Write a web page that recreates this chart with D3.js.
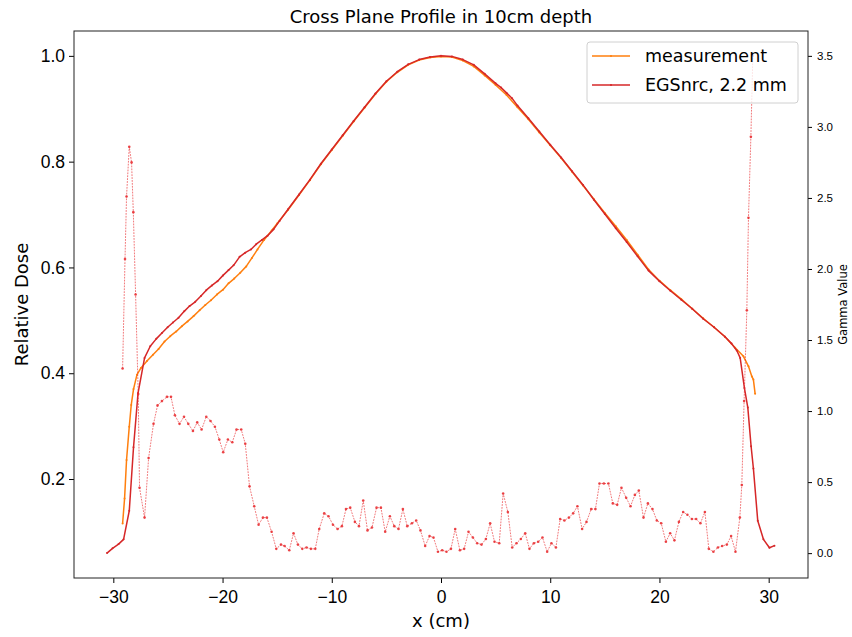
<!DOCTYPE html>
<html>
<head>
<meta charset="utf-8">
<script src="https://cdn.jsdelivr.net/npm/d3@7"></script>
<style>
  body { margin: 0; background: #fff; }
  svg { font-family: "DejaVu Sans", sans-serif; }
</style>
</head>
<body>
<svg id="chart"></svg>
<script>
// profile data
var egsX = [-30.58, -30.07, -29.52, -29.06, -28.54, -28.15, -27.74, -27.14, -26.62, -26.07, -25.55, -25.03,
  -24.54, -24.03, -23.51, -23.02, -22.5, -21.98, -21.49, -20.97, -20.46, -19.96, -19.45, -18.99, -18.44,
  -17.92, -17.4, -16.92, -16.39, -15.88, -15.33, -14.78, -14, -13, -12, -11, -10, -9, -8, -7, -6, -5, -4,
  -3, -2, -1, 0, 1, 2, 3, 4, 5, 5.5, 6, 6.5, 7, 8, 9, 10, 11, 12, 13, 14, 15, 16, 17, 18, 19, 20, 21, 22,
  23, 24, 25, 26, 26.6, 27.08, 27.39, 27.78, 28.09, 28.39, 28.6, 29.0, 29.52, 30.07, 30.53];
var egsDose = [0.060, 0.069, 0.077, 0.086, 0.140, 0.26, 0.362, 0.429, 0.451, 0.465, 0.476, 0.487,
  0.496, 0.505, 0.517, 0.527, 0.535, 0.546, 0.557, 0.566, 0.574, 0.585, 0.595, 0.604, 0.620,
  0.628, 0.634, 0.644, 0.652, 0.660, 0.672, 0.688, 0.710, 0.738, 0.766, 0.796, 0.823, 0.850, 0.877, 0.903, 0.929, 0.952, 0.970,
  0.984, 0.993, 0.998, 1.000, 0.999, 0.993, 0.983, 0.966, 0.948, 0.940, 0.930, 0.920, 0.906, 0.882, 0.857, 0.832, 0.808, 0.782, 0.756, 0.728, 0.701, 0.674, 0.648, 0.621, 0.594, 0.574, 0.556, 0.539,
  0.522, 0.503, 0.487, 0.469, 0.456, 0.443, 0.429, 0.372, 0.335, 0.262, 0.22, 0.121, 0.086, 0.070, 0.074];

var measX = [-29.15, -28.97, -28.79, -28.54, -28.36, -28.15, -27.84, -27.47, -26.92, -26.37, -25.86, -25.31,
  -24.79, -24.24, -23.72, -23.2, -22.65, -22.1, -21.58, -21.06, -20.51, -19.96, -19.45, -18.93, -18.38,
  -17.83, -17.31, -16.8, -16.2, -15.5, -15, -14, -13, -12, -11, -10, -9, -8, -7, -6, -5, -4, -3, -2, -1,
  0, 1, 2, 3, 4, 5, 6, 7, 8, 9, 10, 11, 12, 13, 14, 15, 16, 17, 18, 19, 20, 21, 22, 23, 24, 25, 26,
  26.93, 27.69, 28.15, 28.46, 28.6, 28.76];
var measDose = [0.116, 0.163, 0.236, 0.299, 0.34, 0.37, 0.397, 0.41, 0.423, 0.435, 0.446, 0.46,
  0.47, 0.479, 0.489, 0.498, 0.508, 0.519, 0.529, 0.538, 0.549, 0.558, 0.57, 0.579, 0.59,
  0.602, 0.618, 0.634, 0.652, 0.670, 0.683, 0.709, 0.737, 0.765, 0.795, 0.822, 0.849, 0.876, 0.902, 0.928, 0.951, 0.969, 0.983, 0.992, 0.997,
  0.999, 0.998, 0.991, 0.980, 0.963, 0.945, 0.926, 0.903, 0.880, 0.855, 0.831, 0.807, 0.781, 0.755, 0.729, 0.703, 0.678, 0.652, 0.624, 0.596, 0.575, 0.557, 0.540, 0.522, 0.504, 0.487, 0.469,
  0.448, 0.432, 0.413, 0.394, 0.388, 0.361];

var gammaX = [-29.15, -28.93, -28.79, -28.54, -28.33, -28.17, -27.96, -27.72, -27.6, -27.14, -26.77, -26.32,
  -25.95, -25.55, -25.09, -24.72, -24.36, -23.94, -23.53, -23.14, -22.71, -22.32, -21.92, -21.49, -21.1,
  -20.7, -20.3, -19.94, -19.51, -19.11, -18.72, -18.29, -17.92, -17.53, -17.1, -16.7, -16.3, -15.94,
  -15.51, -15.08, -14.65, -14.32, -13.89, -13.5, -13.1, -12.7, -12.31, -11.91, -11.51, -11.15, -10.69,
  -10.3, -9.89, -9.47, -9.07, -8.7, -8.31, -7.88, -7.51, -7.12, -6.73, -6.32, -5.9, -5.5, -5.11, -4.68,
  -4.28, -3.89, -3.49, -3.09, -2.66, -2.27, -1.88, -1.45, -1.05, -0.69, -0.28, 0.11, 0.5, 0.91, 1.3,
  1.73, 2.12, 2.52, 2.92, 3.31, 3.71, 4.11, 4.5, 4.9, 5.33, 5.69, 6.12, 6.52, 6.91, 7.31, 7.71, 8.1,
  8.5, 8.9, 9.29, 9.72, 10.11, 10.52, 10.91, 11.3, 11.71, 12.1, 12.49, 12.92, 13.32, 13.75, 14.14,
  14.51, 14.91, 15.33, 15.73, 16.13, 16.52, 16.95, 17.35, 17.75, 18.11, 18.54, 18.94, 19.36, 19.76,
  20.16, 20.59, 20.98, 21.37, 21.78, 22.17, 22.56, 22.97, 23.36, 23.75, 24.16, 24.52, 24.94, 25.35,
  25.74, 26.17, 26.56, 26.96, 27.36, 27.54, 27.75, 28.0, 28.15, 28.37, 28.55];
var gammaVal = [1.30, 2.07, 2.51, 2.86, 2.75, 2.40, 1.82, 1.12, 0.46, 0.25, 0.67, 0.91,
  1.04, 1.07, 1.10, 1.10, 0.97, 0.91, 0.96, 0.91, 0.86, 0.92, 0.87, 0.96, 0.93,
  0.89, 0.80, 0.71, 0.80, 0.78, 0.87, 0.87, 0.77, 0.47, 0.33, 0.20, 0.25, 0.25,
  0.15, 0.03, 0.06, 0.05, 0.02, 0.14, 0.06, 0.03, 0.04, 0.03, 0.03, 0.17, 0.28,
  0.26, 0.20, 0.17, 0.19, 0.31, 0.32, 0.22, 0.19, 0.37, 0.16, 0.18, 0.32, 0.32, 0.15, 0.26,
  0.19, 0.17, 0.31, 0.19, 0.21, 0.23, 0.16, 0.05, 0.12, 0.11, 0.01, 0.02, 0.01, 0.03, 0.17,
  0.02, 0.03, 0.15, 0.11, 0.07, 0.06, 0.10, 0.21, 0.08, 0.07, 0.42, 0.29, 0.04, 0.07, 0.10, 0.14, 0.03,
  0.07, 0.08, 0.11, 0.01, 0.07, 0.04, 0.24, 0.23, 0.25, 0.28, 0.33, 0.17, 0.22, 0.31, 0.31,
  0.49, 0.49, 0.49, 0.35, 0.34, 0.46, 0.39, 0.33, 0.41, 0.44, 0.25, 0.35, 0.31, 0.23,
  0.21, 0.08, 0.14, 0.09, 0.22, 0.29, 0.27, 0.24, 0.24, 0.21, 0.29, 0.03, 0.01, 0.04,
  0.05, 0.06, 0.12, 0.01, 0.25, 0.48, 1.07, 1.71, 2.36, 2.93, 3.50];

var xTicks = [-30, -20, -10, 0, 10, 20, 30];
var doseTicks = [0.2, 0.4, 0.6, 0.8, 1.0];
var gammaTicks = [0.0, 0.5, 1.0, 1.5, 2.0, 2.5, 3.0, 3.5];

var seriesNames = ["measurement", "EGSnrc, 2.2 mm"];
var seriesColors = ["#ff7f0e", "#d62728"];

var W = 852, H = 637;
var margin = {top: 31, right: 44, bottom: 59, left: 74},
    width = W - margin.left - margin.right,
    height = H - margin.top - margin.bottom;

var svg = d3.select("#chart").attr("width", W).attr("height", H);
var g = svg.append("g").attr("transform", "translate(" + margin.left + "," + margin.top + ")");

var x = d3.scaleLinear().domain([-33.6, 33.6]).range([0, width]);
var y = d3.scaleLinear().domain([0.0129, 1.047]).range([height, 0]);
var y2 = d3.scaleLinear().domain([-0.175, 3.675]).range([height, 0]);

function zip(xs, ys) {
  return xs.map(function (v, i) { return [v, ys[i]]; });
}

var line = d3.line()
    .x(function (d) { return x(d[0]); })
    .y(function (d) { return y(d[1]); });
var lineG = d3.line()
    .x(function (d) { return x(d[0]); })
    .y(function (d) { return y2(d[1]); });

// main profiles
var profiles = [zip(measX, measDose), zip(egsX, egsDose)];
profiles.forEach(function (pts, i) {
  g.append("path")
      .datum(pts)
      .attr("d", line)
      .attr("fill", "none")
      .attr("stroke", seriesColors[i])
      .attr("stroke-width", 1.5)
      .attr("stroke-linejoin", "round");
  g.selectAll(".m" + i)
      .data(pts)
      .enter().append("circle")
      .attr("cx", function (d) { return x(d[0]); })
      .attr("cy", function (d) { return y(d[1]); })
      .attr("r", 1)
      .attr("fill", seriesColors[i]);
});

// axes
var xAxis = d3.axisBottom(x).tickValues(xTicks).tickSize(5).tickPadding(8)
    .tickFormat(function (d) { return d < 0 ? "\u2212" + Math.abs(d) : d; });
var yAxis = d3.axisLeft(y).tickValues(doseTicks).tickSize(5).tickPadding(4).tickFormat(d3.format(".1f"));
var y2Axis = d3.axisRight(y2).tickValues(gammaTicks).tickSize(4).tickPadding(5).tickFormat(d3.format(".1f"));

var gx = g.append("g").attr("transform", "translate(0," + height + ")").call(xAxis);
var gy = g.append("g").call(yAxis);
var gy2 = g.append("g").attr("transform", "translate(" + width + ",0)").call(y2Axis);

[gx, gy].forEach(function (a) {
  a.select(".domain").remove();
  a.selectAll("text").style("font-size", "17.5px").attr("fill", "#000");
  a.selectAll("line").attr("stroke", "#000");
});
gy2.select(".domain").remove();
gy2.selectAll("text").style("font-size", "11.5px").attr("fill", "#000");
gy2.selectAll("line").attr("stroke", "#000");

g.append("rect")
    .attr("width", width).attr("height", height)
    .attr("fill", "none").attr("stroke", "#222").attr("stroke-width", 1);

// labels
svg.append("text").attr("x", margin.left + width / 2).attr("y", 23)
    .attr("text-anchor", "middle").style("font-size", "18px")
    .text("Cross Plane Profile in 10cm depth");
svg.append("text").attr("x", margin.left + width / 2).attr("y", 627)
    .attr("text-anchor", "middle").style("font-size", "18px")
    .text("x (cm)");
svg.append("text")
    .attr("transform", "translate(28," + (margin.top + height / 2) + ")rotate(-90)")
    .attr("text-anchor", "middle").style("font-size", "18px")
    .text("Relative Dose");
svg.append("text")
    .attr("transform", "translate(847," + (margin.top + height / 2) + ")rotate(-90)")
    .attr("text-anchor", "middle").style("font-size", "11.5px")
    .text("Gamma Value");

// legend
var legend = svg.append("g").attr("transform", "translate(587,42)");
legend.append("rect")
    .attr("width", 211).attr("height", 61).attr("rx", 3)
    .attr("fill", "#fff").attr("fill-opacity", 0.8)
    .attr("stroke", "#d0d0d0");
seriesNames.forEach(function (name, i) {
  var ly = 14 + i * 29;
  legend.append("line").attr("x1", 5).attr("x2", 43).attr("y1", ly).attr("y2", ly)
      .attr("stroke", seriesColors[i]).attr("stroke-width", 1.5);
  legend.append("circle").attr("cx", 24).attr("cy", ly).attr("r", 1).attr("fill", seriesColors[i]);
  legend.append("text").attr("x", 58).attr("y", ly).attr("dy", "0.35em")
      .style("font-size", "17.5px").text(name);
});

// gamma on the twin axis, drawn last
var gammaPts = zip(gammaX, gammaVal);
g.append("path")
    .datum(gammaPts)
    .attr("d", lineG)
    .attr("fill", "none")
    .attr("stroke", "#e8282b")
    .attr("stroke-opacity", 0.7)
    .attr("stroke-width", 0.9)
    .attr("stroke-dasharray", "1.8,1.1");
g.selectAll(".gm")
    .data(gammaPts)
    .enter().append("circle")
    .attr("cx", function (d) { return x(d[0]); })
    .attr("cy", function (d) { return y2(d[1]); })
    .attr("r", 1.3)
    .attr("fill", "#e8282b")
    .attr("fill-opacity", 0.85);
</script>
</body>
</html>
